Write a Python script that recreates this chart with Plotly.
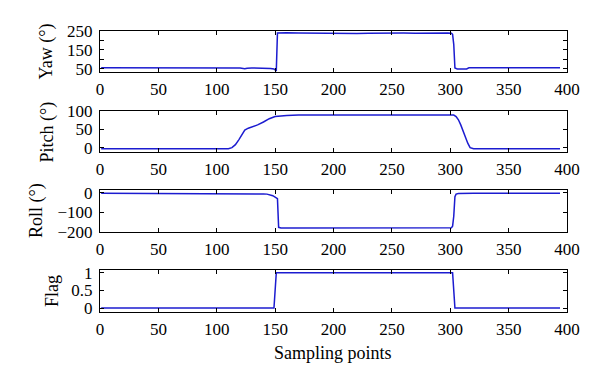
import plotly.graph_objects as go

# ---- data ----
yaw_x = [1, 10, 20, 30, 40, 50, 60, 70, 80, 90, 100, 110, 120, 124, 126, 130, 140, 146, 149, 150, 151,
         152, 155, 160, 170, 180, 190, 200, 210, 220, 230, 240, 250, 260, 270, 280, 290, 298, 301, 302,
         303, 304, 306, 310, 314, 316, 320, 330, 340, 350, 360, 370, 380, 390, 394]
yaw = [56, 56, 56, 57, 56, 57, 57, 56, 56, 57, 56, 56, 55, 51, 54, 55, 55, 53, 50, 44, 40,
       240, 241, 241, 240, 239, 238, 239, 238, 237, 238, 239, 238, 239, 238, 240, 239, 240, 238, 232,
       180, 55, 50, 49, 50, 56, 57, 56, 57, 56, 57, 56, 56, 56, 56]

pitch_x = [1, 20, 40, 60, 80, 100, 108, 110, 113, 116, 119, 122, 124, 127, 130, 135, 140, 145, 150, 155,
           160, 170, 180, 200, 220, 240, 260, 280, 290, 300, 303, 305, 307, 309, 311, 313, 315, 317,
           320, 340, 360, 380, 394]
pitch = [-3, -3, -3, -3, -3, -3, -3, -3, 0, 8, 22, 38, 48, 53, 56, 62, 70, 79, 85, 87,
         88, 89, 89, 89, 89, 89, 88, 88, 87, 89, 89, 85, 76, 62, 45, 28, 12, 0,
         -3, -3, -3, -3, -3]

roll_x = [1, 20, 40, 60, 80, 100, 120, 130, 140, 143, 146, 148, 150, 151, 152, 153, 155, 160, 170, 180,
          190, 200, 220, 240, 260, 280, 290, 300, 301, 302, 303, 304, 305, 307, 310, 320, 340, 360,
          380, 394]
roll = [-3, -3, -3, -3, -3, -3, -4, -5, -6, -7, -10, -15, -22, -27, -30, -176, -179, -180, -180, -181,
        -180, -180, -181, -180, -180, -179, -180, -180, -178, -170, -120, -20, -7, -4, -3, -3, -3, -3,
        -3, -3]

flag_x = [1, 149, 151, 302, 304, 394]
flag = [0, 0, 1, 1, 0, 0]

x_ticks = [0, 50, 100, 150, 200, 250, 300, 350, 400]

# ---- figure (page body has an 8px margin, so positions are shifted) ----
OFF = 8
W, H = 600 - OFF, 387 - OFF
BLUE = "#1c1cd0"
FONT = "Liberation Serif"


def px_x(p):
    return (p - OFF) / W


def px_y(p):
    return 1 - (p - OFF) / H


fig = go.Figure()

panels = [
    (yaw_x, yaw, [34, 250], [50, 100, 150, 200, 250], ["50", "", "150", "", "250"], 31, 72, "Yaw (°)", 46),
    (pitch_x, pitch, [-12, 100], [0, 50, 100], ["0", "50", "100"], 111, 152, "Pitch (°)", 47),
    (roll_x, roll, [-200, 14], [-200, -100, 0], ["−200", "−100", "0"], 190, 232, "Roll (°)", 36),
    (flag_x, flag, [-0.11, 1.08], [0, 0.5, 1], ["0", "0.5", "1"], 270, 312, "Flag", 52),
]

layout_axes = {}
for i, (xs, ys, yr, tv, tt, top, bot, title, tx) in enumerate(panels, start=1):
    sfx = "" if i == 1 else str(i)
    fig.add_trace(go.Scatter(x=xs, y=ys, mode="lines",
                             line=dict(color=BLUE, width=1.5),
                             xaxis="x" + sfx, yaxis="y" + sfx, showlegend=False))
    common = dict(showline=True, linecolor="black", linewidth=1.2, mirror="ticks",
                  ticks="inside", ticklen=4, tickcolor="black", tickwidth=1,
                  showgrid=False, zeroline=False, automargin=False,
                  tickfont=dict(family=FONT, size=17, color="black"))
    layout_axes["xaxis" + sfx] = go.layout.XAxis(domain=[px_x(100), px_x(567)], range=[0, 400],
                                                 tickvals=x_ticks, anchor="y" + sfx,
                                                 ticklabelstandoff=1, **common)
    layout_axes["yaxis" + sfx] = go.layout.YAxis(domain=[px_y(bot), px_y(top)], range=yr,
                                                 tickvals=tv, ticktext=tt, anchor="x" + sfx,
                                                 ticklabelstandoff=3, **common)
    fig.add_annotation(text=title, textangle=-90, x=px_x(tx), y=px_y((top + bot) / 2),
                       xref="paper", yref="paper", showarrow=False,
                       xanchor="center", yanchor="middle",
                       font=dict(family=FONT, size=18, color="black"))

fig.add_annotation(text="Sampling points", x=px_x(333.5), y=px_y(353), xref="paper", yref="paper",
                   showarrow=False, xanchor="center", yanchor="middle",
                   font=dict(family=FONT, size=18, color="black"))

fig.update_layout(width=W, height=H, template="none",
                  font=dict(family=FONT, size=17, color="black"),
                  margin=dict(l=0, r=0, t=0, b=0, autoexpand=False),
                  paper_bgcolor="white", plot_bgcolor="white", showlegend=False,
                  **layout_axes)

fig.write_html("out.html")
